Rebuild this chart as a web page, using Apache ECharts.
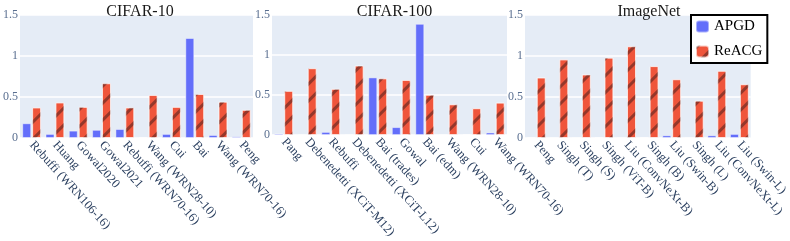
<!DOCTYPE html>
<html>
<head>
<meta charset="utf-8">
<script src="https://cdn.jsdelivr.net/npm/echarts@6/dist/echarts.min.js"></script>
<style>html,body{margin:0;padding:0;background:#fff}#c{width:790px;height:241px}</style>
</head>
<body>
<div id="c"></div>
<script>
const titles = ['CIFAR-10', 'CIFAR-100', 'ImageNet'];
const seriesNames = ['APGD', 'ReACG'];

const catsCifar10 = ['Rebuffi (WRN106-16)', 'Huang', 'Gowal2020', 'Gowal2021', 'Rebuffi (WRN70-16)', 'Wang (WRN28-10)', 'Cui', 'Bai', 'Wang (WRN70-16)', 'Peng'];
const apgdCifar10 = [0.18, 0.05, 0.09, 0.10, 0.11, 0.012, 0.05, 1.22, 0.037, 0.02];
const reacgCifar10 = [0.373, 0.434, 0.38, 0.668, 0.373, 0.525, 0.38, 0.537, 0.443, 0.344];

const catsCifar100 = ['Pang', 'Debenedetti (XCiT-M12)', 'Rebuffi', 'Debenedetti (XCiT-L12)', 'Bai (trades)', 'Gowal', 'Bai (edm)', 'Wang (WRN28-10)', 'Cui', 'Wang (WRN70-16)'];
const apgdCifar100 = [0.02, 0.003, 0.04, 0.003, 0.721, 0.10, 1.39, 0.005, 0.012, 0.033];
const reacgCifar100 = [0.553, 0.836, 0.578, 0.869, 0.709, 0.689, 0.504, 0.385, 0.336, 0.406];

const catsImageNet = ['Peng', 'Singh (T)', 'Singh (S)', 'Singh (ViT-B)', 'Liu (ConvNeXt-B)', 'Singh (B)', 'Liu (Swin-B)', 'Singh (L)', 'Liu (ConvNeXt-L)', 'Liu (Swin-L)'];
const apgdImageNet = [0.012, 0.003, 0.003, 0.012, 0.003, 0.012, 0.033, 0.003, 0.033, 0.05];
const reacgImageNet = [0.738, 0.959, 0.775, 0.98, 1.119, 0.877, 0.717, 0.455, 0.82, 0.656];

const yTicks = [0, 0.5, 1, 1.5];

const cats = [catsCifar10, catsCifar100, catsImageNet];
const apgd = [apgdCifar10, apgdCifar100, apgdImageNet];
const reacg = [reacgCifar10, reacgCifar100, reacgImageNet];

const gridPos = [
  {left: 17, width: 236},
  {left: 272, width: 235},
  {left: 525, width: 238}
];
const serif = '"Liberation Serif", "DejaVu Serif", serif';
const txt = '#2a3f5f';

const grids = [], xAxes = [], yAxes = [], series = [], titleOpts = [];
for (let i = 0; i < 3; i++) {
  grids.push({left: gridPos[i].left, width: gridPos[i].width, top: 15, height: 123,
    show: true, backgroundColor: '#E5ECF6', borderWidth: 0});
  titleOpts.push({text: titles[i], left: gridPos[i].left + gridPos[i].width / 2, top: -1,
    textAlign: 'center',
    textStyle: {fontFamily: serif, fontSize: 16, fontWeight: 'normal', color: '#1a1a1a'}});
  xAxes.push({type: 'category', gridIndex: i, data: cats[i],
    axisLine: {show: false}, axisTick: {show: false},
    axisLabel: {interval: 0, rotate: -48, margin: 5, fontFamily: serif, fontSize: 12.5, color: txt}});
  yAxes.push({type: 'value', gridIndex: i, min: yTicks[0], max: yTicks[yTicks.length - 1], interval: 0.5,
    axisLine: {show: false}, axisTick: {show: false},
    splitLine: {lineStyle: {color: '#ffffff', width: 1.5}},
    axisLabel: {margin: 2, fontFamily: serif, fontSize: 12, color: '#5a6f90'}});
  series.push({name: seriesNames[0], type: 'bar', xAxisIndex: i, yAxisIndex: i, data: apgd[i],
    barWidth: 9, barGap: '10%',
    itemStyle: {color: '#636EFA', borderColor: 'rgba(255,255,255,0.45)', borderWidth: 1}});
  series.push({name: seriesNames[1], type: 'bar', xAxisIndex: i, yAxisIndex: i, data: reacg[i],
    barWidth: 9, barGap: '10%',
    itemStyle: {color: '#EF553B', borderColor: 'rgba(255,255,255,0.45)', borderWidth: 1,
      decal: {symbol: 'rect', symbolSize: 1, dashArrayX: [1, 0], dashArrayY: [2.5, 9],
        rotation: -Math.PI / 4, color: 'rgba(60,25,25,0.5)'}}});
}

const chart = echarts.init(document.getElementById('c'), null, {renderer: 'canvas'});
chart.setOption({
  animation: false,
  backgroundColor: '#ffffff',
  title: titleOpts,
  grid: grids,
  xAxis: xAxes,
  yAxis: yAxes,
  series: series,
  legend: {data: seriesNames, orient: 'vertical', left: 691, top: 15,
    backgroundColor: '#ffffff', borderColor: '#000000', borderWidth: 2,
    padding: [4, 5, 4, 4], itemWidth: 13, itemHeight: 12, itemGap: 10,
    textStyle: {fontFamily: serif, fontSize: 15, color: '#000'}}
});
</script>
</body>
</html>
